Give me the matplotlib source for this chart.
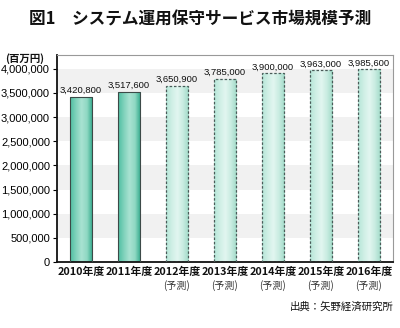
import matplotlib.pyplot as plt
import numpy as np
from matplotlib.colors import LinearSegmentedColormap
from matplotlib.ticker import FuncFormatter

plt.rcParams['font.family'] = ['Noto Sans CJK JP', 'DejaVu Sans']

# Data
years = ['2010年度', '2011年度', '2012年度', '2013年度', '2014年度', '2015年度', '2016年度']
forecast = [False, False, True, True, True, True, True]
values = [3420800, 3517600, 3650900, 3785000, 3900000, 3963000, 3985600]
yticks = np.arange(0, 4000001, 500000)

title = '図1　システム運用保守サービス市場規模予測'
unit = '(百万円)'
source = '出典：矢野経済研究所'

actual_cmap = LinearSegmentedColormap.from_list(
    'act', ['#4fbfa2', '#7fd2bb', '#a9e2d2', '#8fd8c3', '#2fa88a'])
fcst_cmap = LinearSegmentedColormap.from_list(
    'fc', ['#b6e6d8', '#cfefe5', '#e2f6f0', '#c8ece1', '#a2dac8'])

NUM_FONT = ['Liberation Sans', 'DejaVu Sans']
NARROW = ['Liberation Sans Narrow', 'Liberation Sans', 'DejaVu Sans']

fig = plt.figure(figsize=(4.0, 3.28), dpi=100)
ax = fig.add_axes([0.1425, 0.201, 0.84, 0.631])

x = np.arange(len(years))
ax.set_xlim(-0.5, len(years) - 0.5)
ax.set_ylim(0, 4280000)

# alternating background bands
for lo in [500000, 1500000, 2500000, 3500000]:
    ax.axhspan(lo, lo + 500000, color='#f1f1f1', zorder=0, lw=0)

bars = ax.bar(x, values, width=0.46, color='none', zorder=3)
grad = np.linspace(0, 1, 64).reshape(1, -1)
for bar, fc, v in zip(bars, forecast, values):
    x0, w, h = bar.get_x(), bar.get_width(), bar.get_height()
    im = ax.imshow(grad, cmap=fcst_cmap if fc else actual_cmap, aspect='auto',
                   extent=[x0, x0 + w, 0, h], zorder=2, interpolation='bilinear')
    im.set_clip_path(bar)
    if fc:
        bar.set_edgecolor('#4a5a58')
        bar.set_linestyle((0, (2, 1.5)))
        bar.set_linewidth(0.9)
    else:
        bar.set_edgecolor('#3c4a48')
        bar.set_linewidth(0.8)
    ax.text(bar.get_x() + w / 2, h + 40000, f'{v:,}', ha='center', va='bottom',
            fontsize=6.8, color='#111111', zorder=5, family=NARROW)

ax.set_yticks(yticks)
ax.yaxis.set_major_formatter(FuncFormatter(lambda v, p: f'{int(v):,}'))
ax.tick_params(axis='y', labelsize=8.0, length=3, width=0.8, direction='out', pad=2)
for lab in ax.get_yticklabels():
    lab.set_family(NUM_FONT)
ax.set_xticks(x)
ax.set_xticklabels([])
ax.tick_params(axis='x', length=0)

for xi, yr, fc in zip(x, years, forecast):
    ax.text(xi, -0.025, yr, transform=ax.get_xaxis_transform(), ha='center',
            va='top', fontsize=7.8, fontweight='bold', color='#111111')
    if fc:
        ax.text(xi, -0.085, '(予測)', transform=ax.get_xaxis_transform(),
                ha='center', va='top', fontsize=7.2, color='#333333')

for s in ['left', 'bottom']:
    ax.spines[s].set_linewidth(1.3)
    ax.spines[s].set_color('#111111')
for s in ['top', 'right']:
    ax.spines[s].set_linewidth(0.8)
    ax.spines[s].set_color('#999999')
ax.set_axisbelow(True)

fig.text(0.5, 0.94, title, ha='center', va='center', fontsize=12,
         fontweight='bold', color='#111111')
fig.text(0.012, 0.822, unit, ha='left', va='center', fontsize=7.5,
         fontweight='bold', color='#111111')
fig.text(0.985, 0.065, source, ha='right', va='center', fontsize=7.5,
         color='#111111')

fig.savefig('out.png', dpi=100, facecolor='white')
